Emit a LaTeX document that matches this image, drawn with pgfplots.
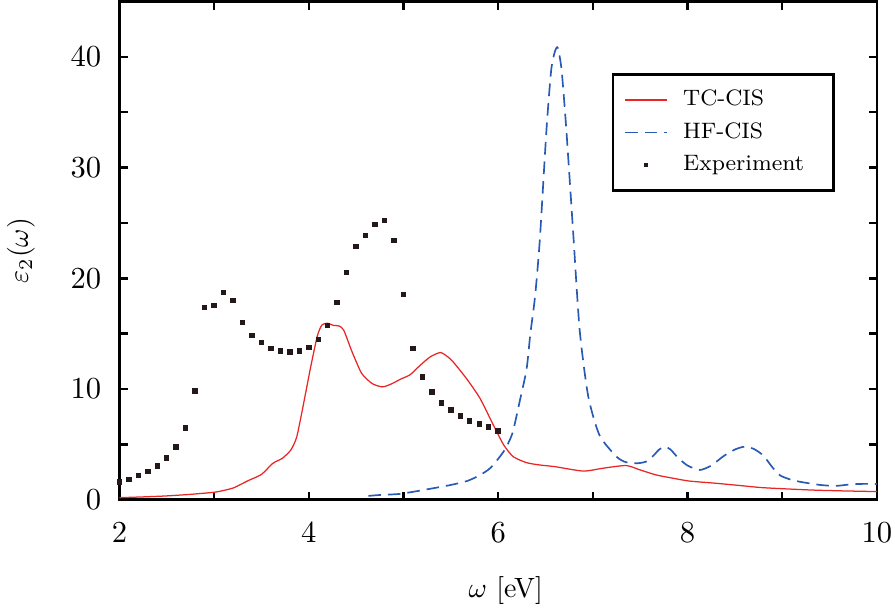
\documentclass[border=0pt]{standalone}
\usepackage{pgfplots}
\pgfplotsset{compat=1.18}
\definecolor{tcred}{RGB}{232,38,38}
\definecolor{hfblue}{RGB}{40,90,180}
\definecolor{expdark}{RGB}{35,25,25}
\pgfplotsset{
  linelegend/.style={legend image code/.code={\draw[##1] (0pt,0pt) -- (15pt,0pt);}},
  marklegend/.style={legend image code/.code={\draw[##1, mark size=0.55pt] plot coordinates {(7.5pt,0pt)};}},
}
\begin{document}
\begin{tikzpicture}
\begin{axis}[
  scale only axis,
  width=271.4pt, height=178.6pt,
  xmin=2, xmax=10, ymin=0, ymax=45,
  xtick={2,4,6,8,10},
  minor xtick={3,5,7,9},
  ytick={0,10,20,30,40},
  minor ytick={5,15,25,35},
  tick align=inside,
  major tick length=3pt, minor tick length=3pt,
  every tick/.style={black, line width=0.9pt},
  axis line style={line width=1pt},
  tick label style={font=\fontsize{10.5}{12}\selectfont},
  yticklabel style={xshift=-3pt},
  xticklabel style={yshift=-4.7pt, inner xsep=1pt},
  xlabel={$\omega$ [eV]},
  ylabel={$\varepsilon_2(\omega)$},
  label style={font=\fontsize{9.5}{11}\selectfont},
  every axis x label/.style={at={(axis description cs:0.51,-0.182)}, anchor=center, inner sep=1.8pt},
  every axis y label/.style={at={(axis description cs:-0.13,0.5)}, anchor=center, rotate=90, inner sep=2.5pt},
  legend style={at={(axis description cs:0.945,0.856)}, anchor=north east,
    font=\footnotesize, draw=black, line width=1pt, inner xsep=4pt, inner ysep=3.5pt,
    row sep=0.6pt, column sep=3.5pt, cells={anchor=west}},
]
\addplot[tcred, line width=0.45pt, smooth, tension=0.4, linelegend] coordinates {
(2.0,0.2) (2.25,0.27) (2.5,0.36) (2.75,0.5) (3.0,0.69) (3.1,0.85) (3.21,1.1)
(3.35,1.7) (3.5,2.3) (3.62,3.3) (3.72,3.75) (3.81,4.5) (3.87,5.6) (3.92,7.6)
(3.97,9.8) (4.02,12.0) (4.09,14.8) (4.14,15.8) (4.2,15.94) (4.26,15.75) (4.32,15.7)
(4.37,15.3) (4.46,13.3) (4.56,11.4) (4.67,10.5) (4.78,10.2) (4.88,10.5) (4.97,10.9)
(5.07,11.3) (5.17,12.1) (5.28,12.9) (5.39,13.3) (5.47,12.9) (5.53,12.4) (5.67,10.9)
(5.81,9.14) (5.95,6.74) (6.06,4.94) (6.16,3.9) (6.3,3.36) (6.44,3.15) (6.6,3.0)
(6.9,2.6) (7.1,2.85) (7.35,3.1) (7.5,2.7) (7.67,2.25) (7.85,1.95) (8.02,1.7)
(8.3,1.5) (8.55,1.3) (8.8,1.1) (9.28,0.9) (9.6,0.82) (10.0,0.75)
};
\addlegendentry{\makebox[48pt][l]{TC-CIS}}
\addplot[hfblue, line width=0.6pt, dash pattern=on 4.5pt off 2.5pt, smooth, tension=0.4, linelegend] coordinates {
(4.63,0.36) (4.76,0.45) (4.97,0.55) (5.28,1.0) (5.5,1.35) (5.67,1.7) (5.8,2.2)
(5.92,2.9) (6.06,4.4) (6.15,6.0) (6.23,9.0) (6.3,11.8) (6.34,15.0) (6.39,18.4)
(6.44,23.5) (6.51,33.4) (6.56,38.8) (6.6,40.5) (6.63,40.8) (6.67,38.8) (6.72,33.4)
(6.79,24.4) (6.86,15.4) (6.95,9.4) (7.07,5.84) (7.25,3.9) (7.35,3.4) (7.46,3.3)
(7.56,3.45) (7.64,4.0) (7.7,4.55) (7.76,4.8) (7.82,4.55) (7.9,3.8) (8.0,3.1)
(8.13,2.7) (8.25,3.1) (8.38,3.95) (8.5,4.55) (8.6,4.8) (8.7,4.6) (8.8,4.0)
(8.9,2.9) (8.98,2.2) (9.1,1.8) (9.21,1.6) (9.4,1.35) (9.56,1.26) (9.7,1.38)
(9.81,1.44) (10.0,1.44)
};
\addlegendentry{\makebox[48pt][l]{HF-CIS}}
\addplot[only marks, mark=square*, mark size=0.8pt, expdark, mark options={line width=0pt}, marklegend] coordinates {
(2.0,1.6) (2.1,1.83) (2.2,2.19) (2.3,2.55) (2.4,3.08) (2.5,3.8) (2.6,4.79)
(2.7,6.5) (2.8,9.83) (2.9,17.38) (3.0,17.56) (3.1,18.73) (3.2,18.0) (3.3,16.03)
(3.4,14.86) (3.5,14.23) (3.6,13.69) (3.7,13.42) (3.8,13.33) (3.9,13.42) (4.0,13.78)
(4.1,14.5) (4.2,15.76) (4.3,17.83) (4.4,20.52) (4.5,22.86) (4.6,23.85) (4.7,24.84)
(4.8,25.2) (4.9,23.4) (5.0,18.55) (5.1,13.69) (5.2,11.08) (5.3,9.74) (5.4,8.75)
(5.5,8.12) (5.6,7.58) (5.7,7.13) (5.8,6.86) (5.9,6.59) (6.0,6.23)
};
\addlegendentry{\makebox[48pt][l]{Experiment}}
\end{axis}
\end{tikzpicture}
\end{document}
